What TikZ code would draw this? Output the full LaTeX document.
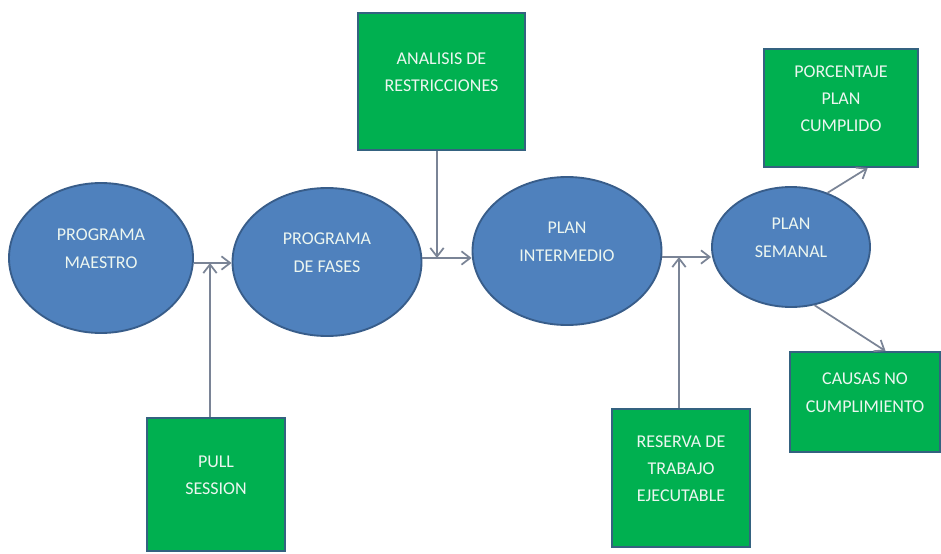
\documentclass[tikz,border=0pt]{standalone}
\usepackage{fontspec}
\setmainfont{Carlito}
\usetikzlibrary{shapes.geometric,arrows.meta}
\definecolor{planfill}{RGB}{79,129,189}
\definecolor{planedge}{RGB}{56,93,138}
\definecolor{taskfill}{RGB}{0,176,80}
\definecolor{taskedge}{RGB}{52,98,128}
\definecolor{flowgray}{RGB}{122,132,150}
\definecolor{tagtext}{RGB}{236,246,240}
\tikzset{
  plan/.style={ellipse, draw=planedge, fill=planfill, line width=1.4pt, inner sep=0pt},
  task/.style={rectangle, draw=taskedge, fill=taskfill, line width=1.4pt, inner sep=0pt},
  tag/.style={text=tagtext, align=center, font=\fontsize{13.5}{20.5}\selectfont},
  flow/.style={draw=flowgray, line width=1.3pt, -{Straight Barb[length=6.5pt,width=10pt]}}
}
% name, x, y, width, height, text (all in pixels)
\newcommand{\plannode}[6]{
  \node[plan, minimum width=#4*0.75pt, minimum height=#5*0.75pt] (#1) at (#2,#3) {};
  \node[tag] (#1-t) at ([yshift=7pt]#1.center) {#6};
}
\newcommand{\tasknode}[6]{
  \node[task, minimum width=#4*0.75pt, minimum height=#5*0.75pt] (#1) at (#2,#3) {};
  \node[tag] (#1-t) at ([yshift=7pt]#1.center) {#6};
}

\begin{document}
\begin{tikzpicture}[x=0.75pt,y=-0.75pt]
\fill[white] (0,0) rectangle (941,553);
\useasboundingbox (0,0) rectangle (941,553);
% planning levels
\plannode{pm}{101}{258}{184}{150}{PROGRAMA\\MAESTRO}
\plannode{pf}{327}{262}{189}{148}{PROGRAMA\\DE FASES}
\plannode{pi}{567}{251}{189}{148}{PLAN\\INTERMEDIO}
\plannode{ps}{791}{247}{158}{120}{PLAN\\SEMANAL}
% inputs and outputs
\tasknode{ar}{441.5}{81.5}{167}{137}{ANALISIS DE\\RESTRICCIONES}
\tasknode{pp}{841}{108}{154}{118}{PORCENTAJE\\PLAN\\CUMPLIDO}
\tasknode{cn}{865}{402}{150}{100}{CAUSAS NO\\CUMPLIMIENTO}
\tasknode{rt}{681}{478}{138}{138}{RESERVA DE\\TRABAJO\\EJECUTABLE}
\tasknode{pu}{216}{484.5}{138}{133}{PULL\\SESSION}
\coordinate (j1) at (210,263);
\coordinate (j2) at (437,258);
\coordinate (j3) at (679,257);
\draw[flow] (pm.east |- j1) -- (pf.west |- j1);
\draw[flow] (pf.east |- j2) -- (pi.west |- j2);
\draw[flow] (pi.east |- j3) -- (ps.west |- j3);
\draw[flow] (pu.north -| j1) -- (j1);
\draw[flow] (ar.south -| j2) -- (j2);
\draw[flow] (rt.north -| j3) -- (j3);
\draw[flow] (ps.56) -- (pp.-66);
\draw[flow] (ps.-68) -- (cn.68);
\end{tikzpicture}
\end{document}
